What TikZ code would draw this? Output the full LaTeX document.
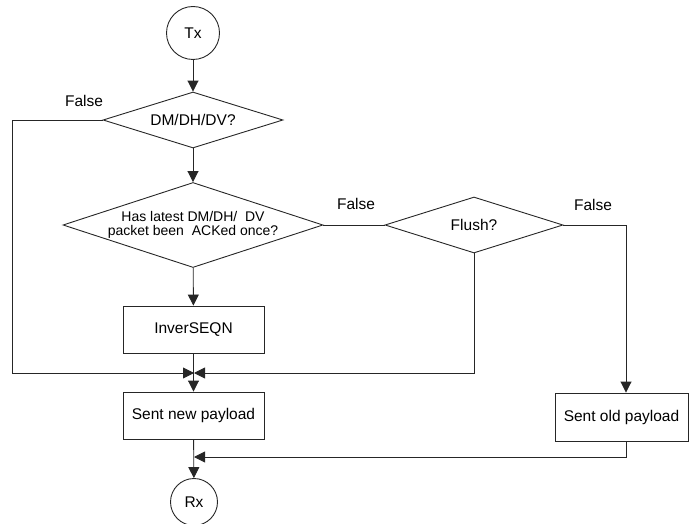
\documentclass[tikz,border=0pt]{standalone}
\usepackage{fontspec}
\setmainfont{Liberation Sans}
\usetikzlibrary{shapes.geometric,arrows.meta}
\begin{document}
\begin{tikzpicture}[x=1pt,y=-1pt,
  every node/.style={font=\fontsize{15.5}{18}\selectfont},
  line/.style={draw=black!85, line width=0.9pt},
  arr/.style={line, -{Triangle[length=11pt,width=11pt]}},
  term/.style={line, circle, inner sep=0pt},
  dec/.style={line, diamond, inner sep=0pt},
  proc/.style={line, rectangle, inner sep=0pt, minimum width=141pt, minimum height=47pt},
  lbl/.style={inner sep=0pt}]
\useasboundingbox (0,0) rectangle (691,524);
\node[term, minimum size=53pt] (tx) at (193,33) {Tx};
\node[dec, shape aspect=3.2, minimum width=180pt, minimum height=56pt] (d1) at (193,120) {DM/DH/DV?};
\node[dec, shape aspect=3.06, minimum width=260pt, minimum height=85pt, font=\fontsize{14}{14}\selectfont, align=center] (d2) at (193,225) {Has latest DM/DH/~ DV\\packet been~ ACKed once?};
\node[dec, shape aspect=3.18, minimum width=178pt, minimum height=56pt] (d3) at (474,225) {Flush?};
\node[proc] (inv) at (193.5,329.5) {InverSEQN};
\node[proc] (snew) at (193.5,415.5) {Sent new payload};
\node[proc, minimum width=133pt, minimum height=48pt] (sold) at (621.5,417) {Sent old payload};
\node[term, minimum size=47pt] (rx) at (194,502) {Rx};
\node[lbl] (fa) at (84,101) {False};
\node[lbl] (fb) at (356,204) {False};
\node[lbl] (fc) at (593,205) {False};
\coordinate (m) at (194,373);
\coordinate (b) at (194,457);
\coordinate (f3) at (626,225);
\coordinate (l1) at (12,120);
\draw[arr] (tx) -- (d1);
\draw[arr] (d1) -- (d2);
\draw[arr] (d2) -- (inv);
\draw[arr] (inv) -- (snew);
\draw[arr] (d1.west) -- (l1) |- (m);
\draw[arr] (d3.south) |- (m);
\draw[line] (d2.east) -- (d3.west);
\draw[arr] (d3.east) -- (f3) -- (f3 |- sold.north);
\draw[arr] (sold.south -| f3) |- (b);
\draw[arr] (snew) -- (rx);
\end{tikzpicture}
\end{document}
